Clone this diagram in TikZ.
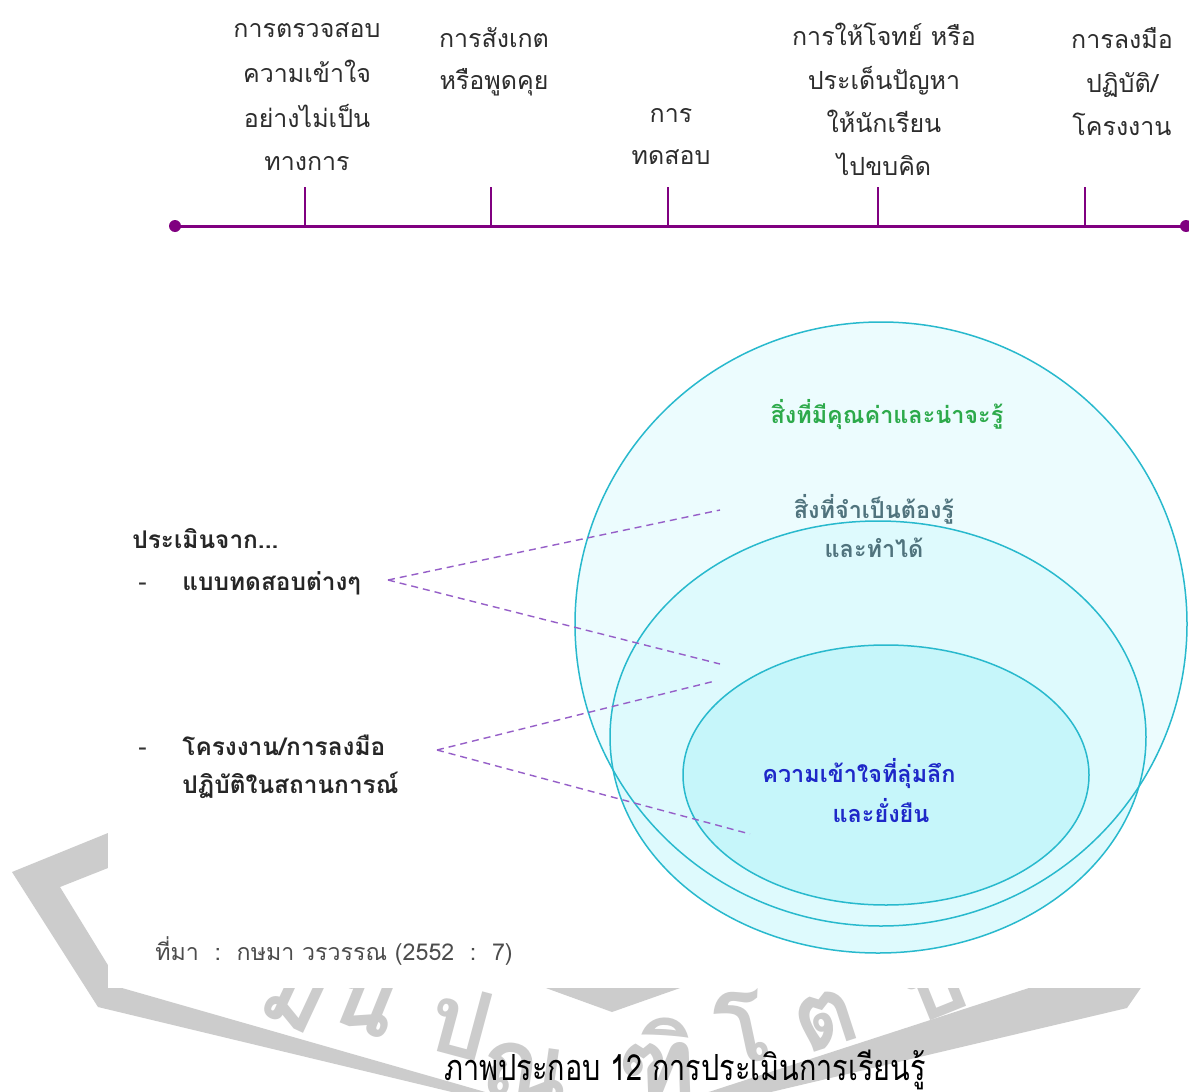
\documentclass[tikz,border=0pt]{standalone}
\usepackage{graphicx}
\usepackage{fontspec}
\newfontfamily\thai[Script=Thai]{Loma}

\definecolor{tlpurple}{RGB}{128,0,128}
\definecolor{txtdark}{RGB}{45,45,45}
\definecolor{dashpurple}{RGB}{150,95,200}
\definecolor{rimcyan}{RGB}{40,185,205}
\definecolor{fillouter}{RGB}{236,252,254}
\definecolor{fillmid}{RGB}{222,250,253}
\definecolor{fillinner}{RGB}{198,246,250}
\definecolor{valgreen}{RGB}{45,170,75}
\definecolor{needslate}{RGB}{80,115,125}
\definecolor{deepblue}{RGB}{30,40,200}
\definecolor{sealgray}{RGB}{204,204,204}

\tikzset{
  tllabel/.style={font=\thai\fontsize{12.5}{15}\selectfont, text=txtdark, anchor=base, inner sep=0pt},
  leftlab/.style={font=\thai\bfseries\fontsize{12.2}{15}\selectfont, text=black!85, anchor=base west, inner sep=0pt},
  dashlab/.style={font=\thai\fontsize{12.5}{15}\selectfont, text=black!80, anchor=base west, inner sep=0pt},
  ringlab/.style={font=\thai\bfseries\fontsize{11.7}{14}\selectfont, anchor=base, inner sep=0pt},
  tick/.style={draw=tlpurple, line width=1.4pt},
  probe/.style={draw=dashpurple, line width=0.7pt, dash pattern=on 3.5pt off 2.5pt},
  rim/.style={draw=rimcyan, line width=0.75pt},
  sealchar/.style={font=\thai\bfseries\fontsize{48}{52}\selectfont, text=sealgray, inner sep=0pt},
}

\begin{document}
\begin{tikzpicture}[x=0.5pt,y=-0.5pt]
\useasboundingbox (0,0) rectangle (1189,1092);
\clip (0,0) rectangle (1189,1092);
\fill[white] (0,0) rectangle (1189,1092);

% ---- seal frame behind the figure ----
\fill[sealgray, even odd rule]
  (12,872) -- (300,755) -- (300,600) -- (1205,600) -- (1205,895) -- (1127,1008) -- (610,1130) -- (98,1007) -- cycle
  (60,887) -- (300,792) -- (1100,792) -- (1100,890) -- (1035,986) -- (604,1126) -- (122,988) -- cycle;
\fill[sealgray] (510,975) -- (717,975) -- (612,1012) -- cycle;
\node[sealchar, rotate=-25] (wm1) at (294,1000) {ม};
\node[sealchar, rotate=-22] (wm2) at (365,1004) {น};
\node[sealchar, rotate=-15] (wm3) at (461,1022) {ป};
\node[sealchar, rotate=-8]  (wm4) at (525,1072) {ณ};
\node[sealchar, rotate=2]   (wm5) at (657,1058) {ฑิ};
\node[sealchar, rotate=12]  (wm6) at (742,1028) {โ};
\node[sealchar, rotate=18]  (wm7) at (826,1020) {ต};
\node[sealchar, rotate=22]  (wm8) at (935,990) {บ};

% ---- figure sheet ----
\fill[white] (108,-10) rectangle (1200,988);

% ---- timeline ----
\coordinate (tlL) at (175,226);
\coordinate (tlR) at (1186,226);
\draw[draw=tlpurple, line width=1.5pt] (tlL) -- (tlR);
\fill[tlpurple] (tlL) circle (3pt);
\fill[tlpurple] (tlR) circle (3pt);
\foreach \n/\x in {k1/305, k2/491, k3/668, k4/878, k5/1085} {
  \coordinate (\n top) at (\x,187);
  \coordinate (\n base) at (\x,226);
  \draw[tick] (\n top) -- (\n base);
}

\node[tllabel] (g1a) at (307,38)  {การตรวจสอบ};
\node[tllabel] (g1b) at (307,83)  {ความเข้าใจ};
\node[tllabel] (g1c) at (307,127) {อย่างไม่เป็น};
\node[tllabel] (g1d) at (307,170) {ทางการ};

\node[tllabel] (g2a) at (494,47) {การสังเกต};
\node[tllabel] (g2b) at (494,89) {หรือพูดคุย};

\node[tllabel] (g3a) at (671,122) {การ};
\node[tllabel] (g3b) at (671,164) {ทดสอบ};

\node[tllabel] (g4a) at (884,45)  {การให้โจทย์ หรือ};
\node[tllabel] (g4b) at (884,89)  {ประเด็นปัญหา};
\node[tllabel] (g4c) at (884,132) {ให้นักเรียน};
\node[tllabel] (g4d) at (884,175) {ไปขบคิด};

\node[tllabel] (g5a) at (1122,48) {การลงมือ};
\node[tllabel] (g5b) at (1122,92) {ปฏิบัติ/};
\node[tllabel] (g5c) at (1122,135) {โครงงาน};

% ---- nested circles of learning ----
\fill[fillouter] (881,624) ellipse [x radius=153pt, y radius=151pt];
\fill[fillmid]   (878,737) ellipse [x radius=134pt, y radius=108pt];
\fill[fillinner] (886,775) ellipse [x radius=101.5pt, y radius=65pt];
\draw[rim] (881,624) ellipse [x radius=153pt, y radius=151pt];
\draw[rim] (878,737) ellipse [x radius=134pt, y radius=108pt];
\draw[rim] (886,775) ellipse [x radius=101.5pt, y radius=65pt];

\node[ringlab, text=valgreen] (worth) at (887,423) {สิ่งที่มีคุณค่าและน่าจะรู้};
\node[ringlab, text=needslate] (needA) at (874,518) {สิ่งที่จำเป็นต้องรู้};
\node[ringlab, text=needslate] (needB) at (874,557) {และทำได้};
\node[ringlab, text=deepblue] (deepA) at (859,782) {ความเข้าใจที่ลุ่มลึก};
\node[ringlab, text=deepblue] (deepB) at (881,822) {และยั่งยืน};

% ---- assessment sources ----
\node[leftlab] (from) at (132,548) {ประเมินจาก...};
\node[dashlab] (dash1) at (138,590) {-};
\node[leftlab] (tests) at (182,590) {แบบทดสอบต่างๆ};
\node[dashlab] (dash2) at (138,755) {-};
\node[leftlab] (projA) at (182,755) {โครงงาน/การลงมือ};
\node[leftlab] (projB) at (182,793) {ปฏิบัติในสถานการณ์};

\coordinate (testsTip) at (388,580);
\coordinate (projTip)  at (437,750);
\coordinate (needPt)   at (720,510);
\coordinate (deepPt1)  at (720,664);
\coordinate (deepPt2)  at (715,681);
\coordinate (deepPt3)  at (750,834);
\draw[probe] (testsTip) -- (needPt);
\draw[probe] (testsTip) -- (deepPt1);
\draw[probe] (projTip) -- (deepPt2);
\draw[probe] (projTip) -- (deepPt3);

% ---- source line ----
\node[font=\thai\fontsize{11.6}{13}\selectfont, text=black!70, anchor=base west, inner sep=0pt] (src) at (155,960)
  {ที่มา\ \ :\ \ กษมา วรวรรณ (2552\ \ :\ \ 7)};

% ---- caption ----
\node[font=\thai\fontsize{18}{21}\selectfont, text=black, anchor=base, inner sep=0pt] (caption) at (685,1080)
  {\scalebox{0.8}[1]{ภาพประกอบ 12 การประเมินการเรียนรู้}};
\end{tikzpicture}
\end{document}
